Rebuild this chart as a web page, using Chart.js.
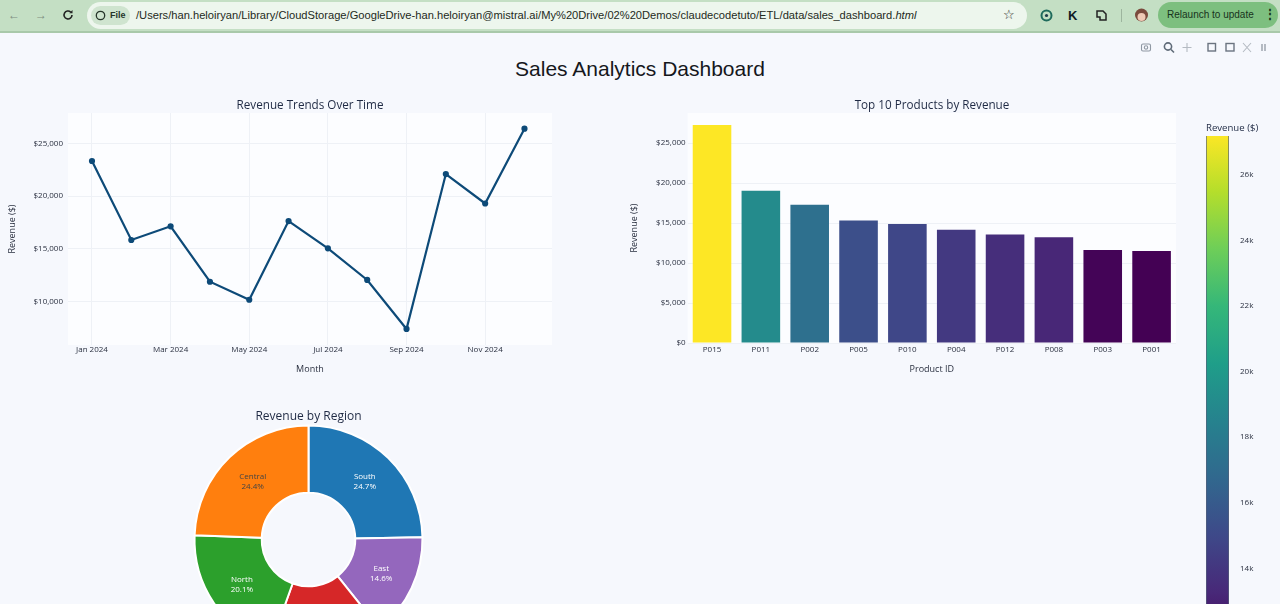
<!DOCTYPE html>
<html>
<head>
<meta charset="utf-8">
<title>Sales Analytics Dashboard</title>
<script src="https://cdn.jsdelivr.net/npm/chart.js@4"></script>
<style>
    html, body { margin: 0; width: 1280px; height: 604px; overflow: hidden; background: #f6f8fd; }
    body { position: relative; font-family: "Liberation Sans", sans-serif; }
    canvas { position: absolute; }
    #topbar { position: absolute; left: 0; top: 0; width: 1280px; height: 31px; background: #c4dfc4; border-bottom: 2px solid #a9c9aa; }
    #topbar span, #topbar div, #topbar svg { position: absolute; }
    #urlbar { left: 87px; top: 2px; width: 940px; height: 27px; border-radius: 14px; background: #edf6ed; }
    #filechip { left: 91px; top: 6px; width: 39px; height: 19px; border-radius: 10px; background: #cfe4cf; }
    #filetext { left: 110px; top: 10px; font-size: 9px; font-weight: bold; color: #26352a; }
    #url { left: 136px; top: 9px; font-size: 11.15px; color: #1e2a22; white-space: nowrap; }
    #relaunch { left: 1158px; top: 2px; width: 120px; height: 26px; border-radius: 13px; background: #7dbf7f; }
    #relaunchtext { left: 1167px; top: 9px; font-size: 10px; color: #17331c; white-space: nowrap; }
    #mainTitle { position: absolute; left: 0; top: 57px; width: 1280px; text-align: center; font-size: 21px; color: #15171c; }
</style>
</head>
<body>
<div id="topbar">
    <span style="left:8px;top:8px;font-size:12px;color:#7d8d80">←</span>
    <span style="left:35px;top:8px;font-size:12px;color:#7d8d80">→</span>
    <svg style="left:62px;top:9px" width="12" height="12" viewBox="0 0 12 12"><path d="M10 6a4 4 0 1 1-1.3-3" fill="none" stroke="#222" stroke-width="1.6"/><path d="M10.500 1v3.200H7.300z" fill="#222"/></svg>
    <div id="urlbar"></div>
    <div id="filechip"></div>
    <svg style="left:95px;top:10px" width="11" height="11" viewBox="0 0 11 11"><circle cx="5.500" cy="5.500" r="4.200" fill="none" stroke="#26352a" stroke-width="1.3"/></svg>
    <span id="filetext">File</span>
    <span id="url">/Users/han.heloiryan/Library/CloudStorage/GoogleDrive-han.heloiryan@mistral.ai/My%20Drive/02%20Demos/claudecodetuto/ETL/data/sales_dashboard.<i>html</i></span>
    <span style="left:1003px;top:7px;font-size:13px;color:#222">☆</span>
    <svg style="left:1040px;top:9px" width="13" height="13" viewBox="0 0 13 13"><circle cx="6.500" cy="6.500" r="5" fill="none" stroke="#1f6b5c" stroke-width="2"/><circle cx="6.500" cy="6.500" r="1.600" fill="#1f3b4a"/></svg>
    <span style="left:1068px;top:8px;font-size:13px;font-weight:bold;color:#0e1a24">K</span>
    <svg style="left:1095px;top:9px" width="13" height="13" viewBox="0 0 13 13"><path d="M2 2h6l3 3v6H5V8H2z" fill="none" stroke="#222" stroke-width="1.500"/></svg>
    <div style="left:1121px;top:9px;width:1px;height:13px;background:#9db59e"></div>
    <svg style="left:1134px;top:7px" width="15" height="16" viewBox="0 0 15 16"><circle cx="7.500" cy="8" r="6.500" fill="#7a4a3c"/><circle cx="7.500" cy="10" r="4" fill="#efc9b5"/></svg>
    <div id="relaunch"></div>
    <span id="relaunchtext">Relaunch to update</span>
    <span style="left:1264px;top:7px;font-size:12px;font-weight:bold;color:#17331c">⋮</span>
</div>

<svg style="position:absolute;left:1140px;top:41px" width="135" height="13" viewBox="0 0 135 13" fill="none" stroke="#8f98a3" stroke-width="1.1">
    <rect x="1.500" y="3" width="9" height="7" rx="1.500"/><circle cx="6" cy="6.500" r="1.700"/>
    <circle cx="28" cy="5.500" r="3.600" stroke="#5f6b78" stroke-width="1.600"/><path d="M31 8.500l3 3" stroke="#5f6b78" stroke-width="1.600"/>
    <path d="M47 2v9M42.500 6.500h9" stroke="#b4bac2"/>
    <rect x="68" y="2.500" width="7.500" height="7.500" stroke="#6b7480" stroke-width="1.400"/>
    <rect x="86" y="2.500" width="8" height="7.500" stroke="#6b7480" stroke-width="1.400"/>
    <path d="M103 2l8 9M111 2l-8 9" stroke="#b4bac2"/>
    <path d="M122 3v7M125 3v7" stroke="#a4abb4" stroke-width="1.600"/>
</svg>

<div id="mainTitle">Sales Analytics Dashboard</div>

<canvas id="trendChart" width="620" height="280" style="left:0;top:95px"></canvas>
<canvas id="productChart" width="620" height="280" style="left:622px;top:95px"></canvas>
<canvas id="regionChart" width="277" height="251" style="left:170px;top:404px"></canvas>
<canvas id="colorbarChart" width="76" height="538" style="left:1204px;top:120px"></canvas>

<script>
/* Monthly revenue */
const months = ["Jan 2024", "Feb 2024", "Mar 2024", "Apr 2024", "May 2024", "Jun 2024", "Jul 2024", "Aug 2024", "Sep 2024", "Oct 2024", "Nov 2024", "Dec 2024"];
const monthlyRevenue = [23340, 15830, 17130, 11860, 10150, 17630, 15040, 12030, 7370, 22100, 19300, 26410];
const monthTicks = [0, 2, 4, 6, 8, 10];
const trendTicks = [10000, 15000, 20000, 25000];

/* Top products */
const productIds = ["P015", "P011", "P002", "P005", "P010", "P004", "P012", "P008", "P003", "P001"];
const productRevenue = [27250, 19040, 17290, 15330, 14875, 14160, 13580, 13210, 11625, 11500];
const productTicks = [0, 5000, 10000, 15000, 20000, 25000];
const colorbarTicks = [14000, 16000, 18000, 20000, 22000, 24000, 26000];

/* Regions */
const regionNames = ["South", "East", "West", "North", "Central"];
const regionShares = [24.7, 14.6, 16.2, 20.1, 24.4];
const regionColors = ["#1f77b4", "#9467bd", "#d62728", "#2ca02c", "#ff7f0e"];
const regionTextColors = ["#ffffff", "#ffffff", "#ffffff", "#ffffff", "#444444"];

const viridis = ["#440154", "#482878", "#3e4989", "#31688e", "#26828e", "#1f9e89", "#35b779", "#6ece58", "#b5de2b", "#fde725"];

const chartFont = "'Open Sans', sans-serif";
const tickColor = "#2a3040";
const gridColor = "#eef1f6";

function viridisAt(t) {
    const pos = Math.min(Math.max(t, 0), 1) * (viridis.length - 1);
    const i = Math.min(Math.floor(pos), viridis.length - 2);
    const a = parseInt(viridis[i].slice(1), 16);
    const b = parseInt(viridis[i + 1].slice(1), 16);
    const mix = shift => {
        const ca = (a >> shift) & 255;
        const cb = (b >> shift) & 255;
        return Math.round(ca + (cb - ca) * (pos - i));
    };
    return `rgb(${mix(16)},${mix(8)},${mix(0)})`;
}

const minRevenue = Math.min(...productRevenue);
const maxRevenue = Math.max(...productRevenue);

/* White panel behind the plot */
const plotBackground = {
    id: "plotBackground",
    beforeDraw(chart) {
        const area = chart.chartArea;
        chart.ctx.fillStyle = "#fcfdff";
        chart.ctx.fillRect(area.left, area.top, area.width, area.height);
    }
};

/* Slice labels, two lines inside each arc */
const sliceLabels = {
    id: "sliceLabels",
    afterDatasetsDraw(chart) {
        const ctx = chart.ctx;
        ctx.font = `8px ${chartFont}`;
        ctx.textAlign = "center";
        ctx.textBaseline = "middle";
        chart.getDatasetMeta(0).data.forEach((arc, i) => {
            const p = arc.tooltipPosition();
            ctx.fillStyle = regionTextColors[i];
            ctx.fillText(regionNames[i], p.x, p.y - 5);
            ctx.fillText(regionShares[i].toFixed(1) + "%", p.x, p.y + 5);
        });
    }
};

function fixedWidth(width) {
    return scale => { scale.width = width; };
}

function fixedHeight(height) {
    return scale => { scale.height = height; };
}

function chartTitle(text, size, top, bottom) {
    return {
        display: true,
        text: text,
        color: "#1f2a44",
        font: { family: chartFont, size: size, weight: "normal", lineHeight: 1.2 },
        padding: { top: top, bottom: bottom }
    };
}

function axisTitle(text, top) {
    return {
        display: true,
        text: text,
        color: tickColor,
        font: { family: chartFont, size: 9, lineHeight: 1.2 },
        padding: { top: top, bottom: 0 }
    };
}

/* Empty axis on the right, keeps the title centred over the whole canvas */
function spacerAxis(width) {
    return {
        position: "right",
        afterFit: fixedWidth(width),
        ticks: { display: false },
        grid: { display: false },
        border: { display: false }
    };
}

const smallTicks = { color: tickColor, font: { family: chartFont, size: 8 } };
const dollars = v => "$" + v.toLocaleString("en-US");

/* Line chart */
new Chart(document.getElementById("trendChart"), {
    type: "line",
    data: {
        datasets: [{
            data: monthlyRevenue.map((v, i) => ({ x: i, y: v })),
            borderColor: "#0d4a78",
            backgroundColor: "#0d4a78",
            borderWidth: 2.2,
            pointRadius: 2,
            tension: 0
        }]
    },
    options: {
        responsive: false,
        animation: false,
        plugins: {
            legend: { display: false },
            tooltip: { enabled: false },
            title: chartTitle("Revenue Trends Over Time", 11.7, 3.5, 0.5)
        },
        scales: {
            x: {
                type: "linear",
                min: -0.61,
                max: 11.7,
                afterBuildTicks: scale => { scale.ticks = monthTicks.map(v => ({ value: v })); },
                afterFit: fixedHeight(30),
                ticks: { ...smallTicks, padding: 0, maxRotation: 0, autoSkip: false, callback: v => months[v] },
                grid: { color: gridColor, drawTicks: false },
                border: { display: false },
                title: axisTitle("Month", 0.5)
            },
            y: {
                min: 5846,
                max: 27899,
                afterBuildTicks: scale => { scale.ticks = trendTicks.map(v => ({ value: v })); },
                afterFit: fixedWidth(68),
                ticks: { ...smallTicks, padding: 5, callback: dollars },
                grid: { color: gridColor, drawTicks: false },
                border: { display: false },
                title: axisTitle("Revenue ($)", 7)
            },
            spacer: spacerAxis(68)
        }
    },
    plugins: [plotBackground]
});

/* Bar chart */
new Chart(document.getElementById("productChart"), {
    type: "bar",
    data: {
        labels: productIds,
        datasets: [{
            data: productRevenue,
            backgroundColor: productRevenue.map(v => viridisAt((v - minRevenue) / (maxRevenue - minRevenue))),
            barPercentage: 0.79,
            categoryPercentage: 1
        }]
    },
    options: {
        responsive: false,
        animation: false,
        plugins: {
            legend: { display: false },
            tooltip: { enabled: false },
            title: chartTitle("Top 10 Products by Revenue", 11.7, 3.5, 0.5)
        },
        scales: {
            x: {
                afterFit: fixedHeight(32),
                ticks: { ...smallTicks, padding: 2, maxRotation: 0, autoSkip: false },
                grid: { display: false, drawTicks: false },
                border: { display: false },
                title: axisTitle("Product ID", 0.5)
            },
            y: {
                min: 0,
                max: 28750,
                afterBuildTicks: scale => { scale.ticks = productTicks.map(v => ({ value: v })); },
                afterFit: fixedWidth(65.6),
                ticks: { ...smallTicks, padding: 2, callback: dollars },
                grid: { color: gridColor, drawTicks: false },
                border: { display: false },
                title: axisTitle("Revenue ($)", 7.3)
            },
            spacer: spacerAxis(66)
        }
    },
    plugins: [plotBackground]
});

/* Doughnut */
new Chart(document.getElementById("regionChart"), {
    type: "doughnut",
    data: {
        labels: regionNames,
        datasets: [{
            data: regionShares,
            backgroundColor: regionColors,
            borderColor: "#ffffff",
            borderWidth: 2,
            radius: 114,
            cutout: 47,
            clip: false
        }]
    },
    options: {
        responsive: false,
        animation: false,
        plugins: {
            legend: { display: false },
            tooltip: { enabled: false },
            title: chartTitle("Revenue by Region", 12, 5, 0.6)
        }
    },
    plugins: [sliceLabels]
});

/* Colour scale, a single floating bar */
new Chart(document.getElementById("colorbarChart"), {
    type: "bar",
    data: {
        labels: ["Revenue ($)"],
        datasets: [{
            data: [[minRevenue, maxRevenue]],
            backgroundColor: context => {
                const area = context.chart.chartArea;
                const yScale = context.chart.scales.y;
                if (!area) return viridis[0];
                const fill = context.chart.ctx.createLinearGradient(0, yScale.getPixelForValue(minRevenue), 0, yScale.getPixelForValue(maxRevenue));
                viridis.forEach((c, i) => fill.addColorStop(i / (viridis.length - 1), c));
                return fill;
            },
            borderColor: "#55607a",
            borderWidth: 1,
            borderSkipped: false,
            barPercentage: 1,
            categoryPercentage: 1
        }]
    },
    options: {
        responsive: false,
        animation: false,
        layout: { padding: { left: 2 } },
        plugins: {
            legend: { display: false },
            tooltip: { enabled: false },
            title: { ...chartTitle("Revenue ($)", 9.6, 3, 1.5), align: "start" }
        },
        scales: {
            x: { display: false },
            y: {
                position: "right",
                min: 11500,
                max: 27190,
                afterBuildTicks: scale => { scale.ticks = colorbarTicks.map(v => ({ value: v })); },
                afterFit: fixedWidth(51),
                ticks: { ...smallTicks, padding: 3, callback: v => (v / 1000) + "k" },
                grid: { display: false },
                border: { display: false }
            }
        }
    }
});
</script>
</body>
</html>
